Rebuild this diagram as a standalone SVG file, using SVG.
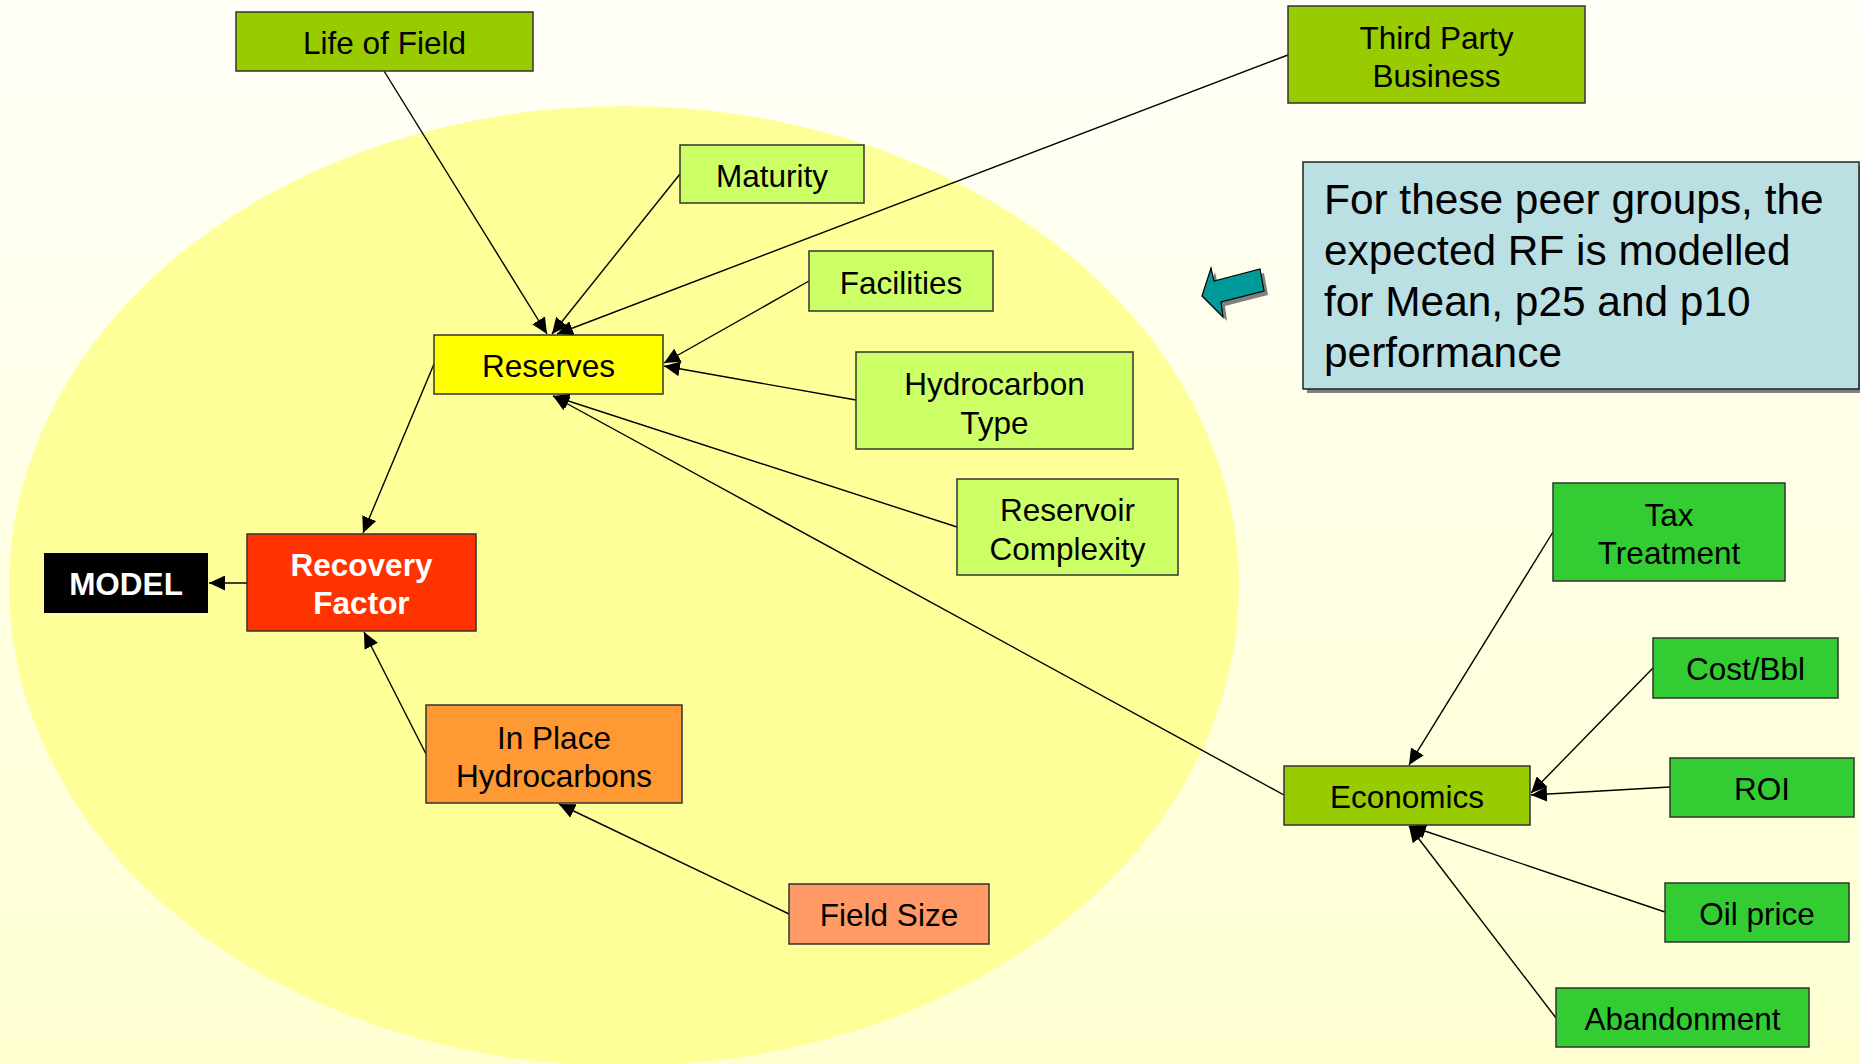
<svg xmlns="http://www.w3.org/2000/svg" width="1860" height="1064" viewBox="0 0 1860 1064">
<defs>
<linearGradient id="bg" x1="0" y1="0" x2="0" y2="1">
<stop offset="0" stop-color="#FFFFF8"/>
<stop offset="1" stop-color="#FFFFD2"/>
</linearGradient>
<marker id="ah" viewBox="0 0 10 10" refX="10" refY="5" markerWidth="16" markerHeight="15" markerUnits="userSpaceOnUse" orient="auto" preserveAspectRatio="none">
<path d="M0,0 L10,5 L0,10 z" fill="#000"/>
</marker>
<style>
.n rect{stroke:#333;stroke-width:1.5}
.t{font-family:"Liberation Sans",Arial,sans-serif;font-size:31.5px;fill:#000;text-anchor:middle}
.b{font-weight:bold;fill:#fff}
.c line{stroke:#000;stroke-width:1.4;marker-end:url(#ah)}
.dg{fill:#99CC00}
.lg{fill:#CCFF66}
.gr{fill:#33CC33}
</style>
</defs>
<rect x="0" y="0" width="1860" height="1064" fill="url(#bg)"/>
<ellipse cx="624" cy="586" rx="615" ry="480" fill="#FFFF99"/>

<g id="connectors" class="c">
<line x1="384" y1="71" x2="547" y2="334"/>
<line x1="680" y1="174" x2="552" y2="334"/>
<line x1="1288" y1="55" x2="557" y2="334"/>
<line x1="809" y1="281" x2="664" y2="363"/>
<line x1="856" y1="400" x2="664" y2="366"/>
<line x1="957" y1="527" x2="553" y2="396"/>
<line x1="1284" y1="795" x2="553" y2="396"/>
<line x1="434" y1="364" x2="363" y2="533"/>
<line x1="247" y1="583" x2="209" y2="583"/>
<line x1="426" y1="754" x2="364" y2="632"/>
<line x1="789" y1="914" x2="559" y2="804"/>
<line x1="1553" y1="532" x2="1409" y2="765"/>
<line x1="1653" y1="668" x2="1531" y2="793"/>
<line x1="1670" y1="787" x2="1531" y2="795"/>
<line x1="1665" y1="912" x2="1410" y2="826"/>
<line x1="1556" y1="1018" x2="1409" y2="826"/>
</g>

<g id="life-of-field" class="n"><rect x="236" y="12" width="297" height="59" class="dg"/><text class="t" x="384.5" y="54">Life of Field</text></g>
<g id="third-party" class="n"><rect x="1288" y="6" width="297" height="97" class="dg"/><text class="t" x="1436.5" y="49">Third Party</text><text class="t" x="1436.5" y="87">Business</text></g>
<g id="maturity" class="n"><rect x="680" y="145" width="184" height="58" class="lg"/><text class="t" x="772" y="187">Maturity</text></g>
<g id="facilities" class="n"><rect x="809" y="251" width="184" height="60" class="lg"/><text class="t" x="901" y="294">Facilities</text></g>
<g id="reserves" class="n"><rect x="434" y="335" width="229" height="59" fill="#FFFF00"/><text class="t" x="548.5" y="377">Reserves</text></g>
<g id="hydrocarbon-type" class="n"><rect x="856" y="352" width="277" height="97" class="lg"/><text class="t" x="994.5" y="395">Hydrocarbon</text><text class="t" x="994.5" y="434">Type</text></g>
<g id="reservoir-complexity" class="n"><rect x="957" y="479" width="221" height="96" class="lg"/><text class="t" x="1067.5" y="521">Reservoir</text><text class="t" x="1067.5" y="560">Complexity</text></g>
<g id="recovery-factor" class="n"><rect x="247" y="534" width="229" height="97" fill="#FF3300"/><text class="t b" x="361.5" y="576">Recovery</text><text class="t b" x="361.5" y="614">Factor</text></g>
<g id="model"><rect x="44" y="553" width="164" height="60" fill="#000"/><text class="t b" x="126" y="595">MODEL</text></g>
<g id="in-place" class="n"><rect x="426" y="705" width="256" height="98" fill="#FF9933"/><text class="t" x="554" y="749">In Place</text><text class="t" x="554" y="787">Hydrocarbons</text></g>
<g id="field-size" class="n"><rect x="789" y="884" width="200" height="60" fill="#FF9966"/><text class="t" x="889" y="926">Field Size</text></g>
<g id="economics" class="n"><rect x="1284" y="766" width="246" height="59" class="dg"/><text class="t" x="1407" y="808">Economics</text></g>
<g id="tax-treatment" class="n"><rect x="1553" y="483" width="232" height="98" class="gr"/><text class="t" x="1669" y="526">Tax</text><text class="t" x="1669" y="564">Treatment</text></g>
<g id="cost-bbl" class="n"><rect x="1653" y="638" width="185" height="60" class="gr"/><text class="t" x="1745.5" y="680">Cost/Bbl</text></g>
<g id="roi" class="n"><rect x="1670" y="758" width="184" height="59" class="gr"/><text class="t" x="1762" y="800">ROI</text></g>
<g id="oil-price" class="n"><rect x="1665" y="883" width="184" height="59" class="gr"/><text class="t" x="1757" y="925">Oil price</text></g>
<g id="abandonment" class="n"><rect x="1556" y="988" width="253" height="59" class="gr"/><text class="t" x="1682.5" y="1030">Abandonment</text></g>

<g id="note">
<rect x="1307" y="166" width="556" height="227" fill="#808080"/>
<rect x="1303" y="162" width="556" height="227" fill="#BBE0E4" stroke="#222" stroke-width="1.5"/>
<g font-family="&quot;Liberation Sans&quot;,Arial,sans-serif" font-size="42.4" fill="#000">
<text x="1324" y="214">For these peer groups, the</text>
<text x="1324" y="265">expected RF is modelled</text>
<text x="1324" y="316">for Mean, p25 and p10</text>
<text x="1324" y="367">performance</text>
</g>
</g>

<g id="pointer">
<polygon points="1206,300 1215,272 1218,285 1264,273 1268,295 1225,306 1227,321" fill="#808080"/>
<polygon points="1202,296 1211,268 1214,281 1260,269 1264,291 1221,302 1223,317" fill="#009999" stroke="#000" stroke-width="1.2"/>
</g>
</svg>
